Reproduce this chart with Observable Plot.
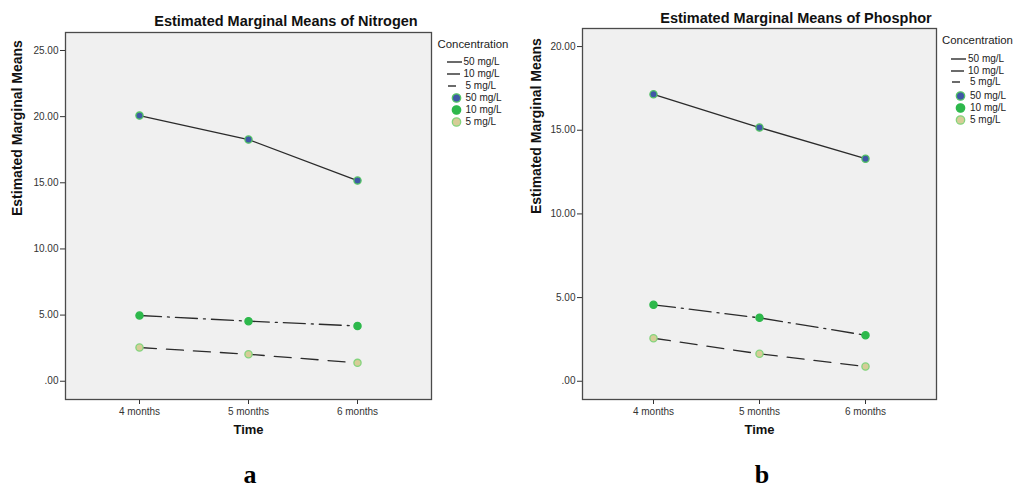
<!DOCTYPE html>
<html>
<head>
<meta charset="utf-8">
<script src="https://cdn.jsdelivr.net/npm/d3@7"></script>
<script src="https://cdn.jsdelivr.net/npm/@observablehq/plot@0.6"></script>
<style>
  body { margin: 0; background: #fff; font-family: "Liberation Sans", Arial, sans-serif; }
  #wrap { position: relative; width: 1015px; height: 488px; overflow: hidden; background: #fff; }
  .panel { position: absolute; top: 0; }
  .title { position: absolute; font-weight: bold; font-size: 14.5px; color: #111; transform: translate(-50%, -50%); white-space: nowrap; }
  .letter { position: absolute; font-family: "Liberation Serif", "Times New Roman", serif; font-weight: bold; font-size: 26px; line-height: 22px; height: 22px; color: #000; transform: translateX(-50%); }
  .legend { position: absolute; font-size: 10px; color: #222; }
  .legend .head { position: absolute; font-size: 11.4px; white-space: nowrap; transform: translateY(-50%); }
  .legend .row { position: absolute; white-space: nowrap; transform: translateY(-50%); line-height: 10px; }
  .legend svg { position: absolute; overflow: visible; }
</style>
</head>
<body>
<div id="wrap"></div>
<script>
// ---- data ----
const times = ["4 months", "5 months", "6 months"];
const concentrations = ["50 mg/L", "10 mg/L", "5 mg/L"];
const nitrogen50 = [20.08, 18.27, 15.17];
const nitrogen10 = [4.97, 4.54, 4.18];
const nitrogen5 = [2.55, 2.04, 1.39];
const phosphor50 = [17.15, 15.16, 13.30];
const phosphor10 = [4.57, 3.79, 2.75];
const phosphor5 = [2.57, 1.64, 0.88];
const nitrogenTicks = [0, 5, 10, 15, 20, 25];
const phosphorTicks = [0, 5, 10, 15, 20];

// ---- styles ----
const lineDash = { "50 mg/L": null, "10 mg/L": "22,6,2,6", "5 mg/L": "17,10" };
const dotFill = { "50 mg/L": "#3f58a6", "10 mg/L": "#2db84b", "5 mg/L": "#d6cd97" };
const dotStroke = { "50 mg/L": "#55c466", "10 mg/L": "#2db84b", "5 mg/L": "#84d47d" };

function table(v50, v10, v5) {
  const rows = [];
  const series = { "50 mg/L": v50, "10 mg/L": v10, "5 mg/L": v5 };
  for (const c of concentrations) times.forEach((t, i) => rows.push({ time: t, conc: c, value: series[c][i] }));
  return rows;
}

const fmt = d => d === 0 ? ".00" : d.toFixed(2);

function panel({ data, ticks, yDomain, width, marginLeft, marginRight, marginTop, ylabDx }) {
  const marks = [
    Plot.frame({ fill: "#f0f0f0" }),
    Plot.axisY({ ticks, tickFormat: fmt, tickSize: 5, tickPadding: 2, label: null, fontSize: 10 }),
    Plot.axisX({ tickSize: 5, tickPadding: 3, label: null, fontSize: 10 }),
    Plot.text(["Estimated Marginal Means"], { frameAnchor: "left", dx: ylabDx, rotate: -90, fontWeight: "bold", fontSize: 14, fill: "#111" }),
    Plot.text(["Time"], { frameAnchor: "bottom", dy: 34, fontWeight: "bold", fontSize: 13, fill: "#111" })
  ];
  for (const c of concentrations) {
    const opts = { x: "time", y: "value", stroke: "#2b2b2b", strokeWidth: 1.3 };
    if (lineDash[c]) opts.strokeDasharray = lineDash[c];
    marks.push(Plot.line(data.filter(d => d.conc === c), opts));
  }
  for (const c of concentrations) {
    marks.push(Plot.dot(data.filter(d => d.conc === c), { x: "time", y: "value", r: 3.6, fill: dotFill[c], stroke: dotStroke[c], strokeWidth: 1.3 }));
  }
  marks.push(Plot.frame({ stroke: "#4a4a4a", strokeWidth: 1.3 }));
  return Plot.plot({
    width, height: 488,
    marginLeft, marginRight, marginTop, marginBottom: 89,
    style: { background: "transparent", fontFamily: "'Liberation Sans', Arial, sans-serif", fontSize: "10px", color: "#333" },
    x: { type: "point", domain: times, padding: 0.665 },
    y: { domain: yDomain },
    marks
  });
}

const wrap = document.getElementById("wrap");

function addPanel(left, svg) {
  const d = document.createElement("div");
  d.className = "panel";
  d.style.left = left + "px";
  d.appendChild(svg);
  wrap.appendChild(d);
}

addPanel(0, panel({
  data: table(nitrogen50, nitrogen10, nitrogen5),
  ticks: nitrogenTicks, yDomain: [-1.38, 26.36],
  width: 507, marginLeft: 65, marginRight: 76, marginTop: 32, ylabDx: -48
}));
addPanel(507, panel({
  data: table(phosphor50, phosphor10, phosphor5),
  ticks: phosphorTicks, yDomain: [-1.09, 21.08],
  width: 508, marginLeft: 75, marginRight: 79, marginTop: 28, ylabDx: -46
}));

function addText(cls, text, x, y) {
  const d = document.createElement("div");
  d.className = cls;
  d.textContent = text;
  d.style.left = x + "px";
  d.style.top = y + "px";
  wrap.appendChild(d);
}
addText("title", "Estimated Marginal Means of Nitrogen", 286, 21);
addText("title", "Estimated Marginal Means of Phosphor", 796, 17.5);
addText("letter", "a", 250, 464);
addText("letter", "b", 762, 464);

function addLegend(x, yHead, rows) {
  const lg = document.createElement("div");
  lg.className = "legend";
  lg.style.left = x + "px";
  lg.style.top = "0px";
  const head = document.createElement("div");
  head.className = "head";
  head.textContent = "Concentration";
  head.style.left = "0px";
  head.style.top = yHead + "px";
  lg.appendChild(head);
  const ns = "http://www.w3.org/2000/svg";
  const symLine = { "50 mg/L": [9, 24], "10 mg/L": [9, 24], "5 mg/L": [10, 18] };
  const legendDash = { "50 mg/L": null, "10 mg/L": "13,2,1,2", "5 mg/L": null };
  concentrations.forEach((c, i) => {
    const y = rows[i];
    const svg = document.createElementNS(ns, "svg");
    svg.setAttribute("width", 30); svg.setAttribute("height", 4);
    svg.style.left = "0px"; svg.style.top = (y - 2) + "px";
    const ln = document.createElementNS(ns, "line");
    ln.setAttribute("x1", symLine[c][0]); ln.setAttribute("x2", symLine[c][1]);
    ln.setAttribute("y1", 2); ln.setAttribute("y2", 2);
    ln.setAttribute("stroke", "#2b2b2b"); ln.setAttribute("stroke-width", 1.4);
    if (legendDash[c]) ln.setAttribute("stroke-dasharray", legendDash[c]);
    svg.appendChild(ln);
    lg.appendChild(svg);
    const t = document.createElement("div");
    t.className = "row"; t.textContent = c;
    t.style.left = (c === "5 mg/L" ? 28 : 26) + "px"; t.style.top = y + "px";
    lg.appendChild(t);
  });
  concentrations.forEach((c, i) => {
    const y = rows[i + 3];
    const svg = document.createElementNS(ns, "svg");
    svg.setAttribute("width", 30); svg.setAttribute("height", 10);
    svg.style.left = "0px"; svg.style.top = (y - 5) + "px";
    const dot = document.createElementNS(ns, "circle");
    dot.setAttribute("cx", 18.5); dot.setAttribute("cy", 5); dot.setAttribute("r", 4.2);
    dot.setAttribute("fill", dotFill[c]); dot.setAttribute("stroke", dotStroke[c]); dot.setAttribute("stroke-width", 1.3);
    svg.appendChild(dot);
    lg.appendChild(svg);
    const t = document.createElement("div");
    t.className = "row"; t.textContent = c;
    t.style.left = "28px"; t.style.top = y + "px";
    lg.appendChild(t);
  });
  wrap.appendChild(lg);
}
addLegend(437.5, 44, [62, 73.5, 86, 98.3, 110, 122.3]);
addLegend(942, 40, [59.3, 70.7, 82.3, 95.7, 107.7, 120]);
</script>
</body>
</html>
